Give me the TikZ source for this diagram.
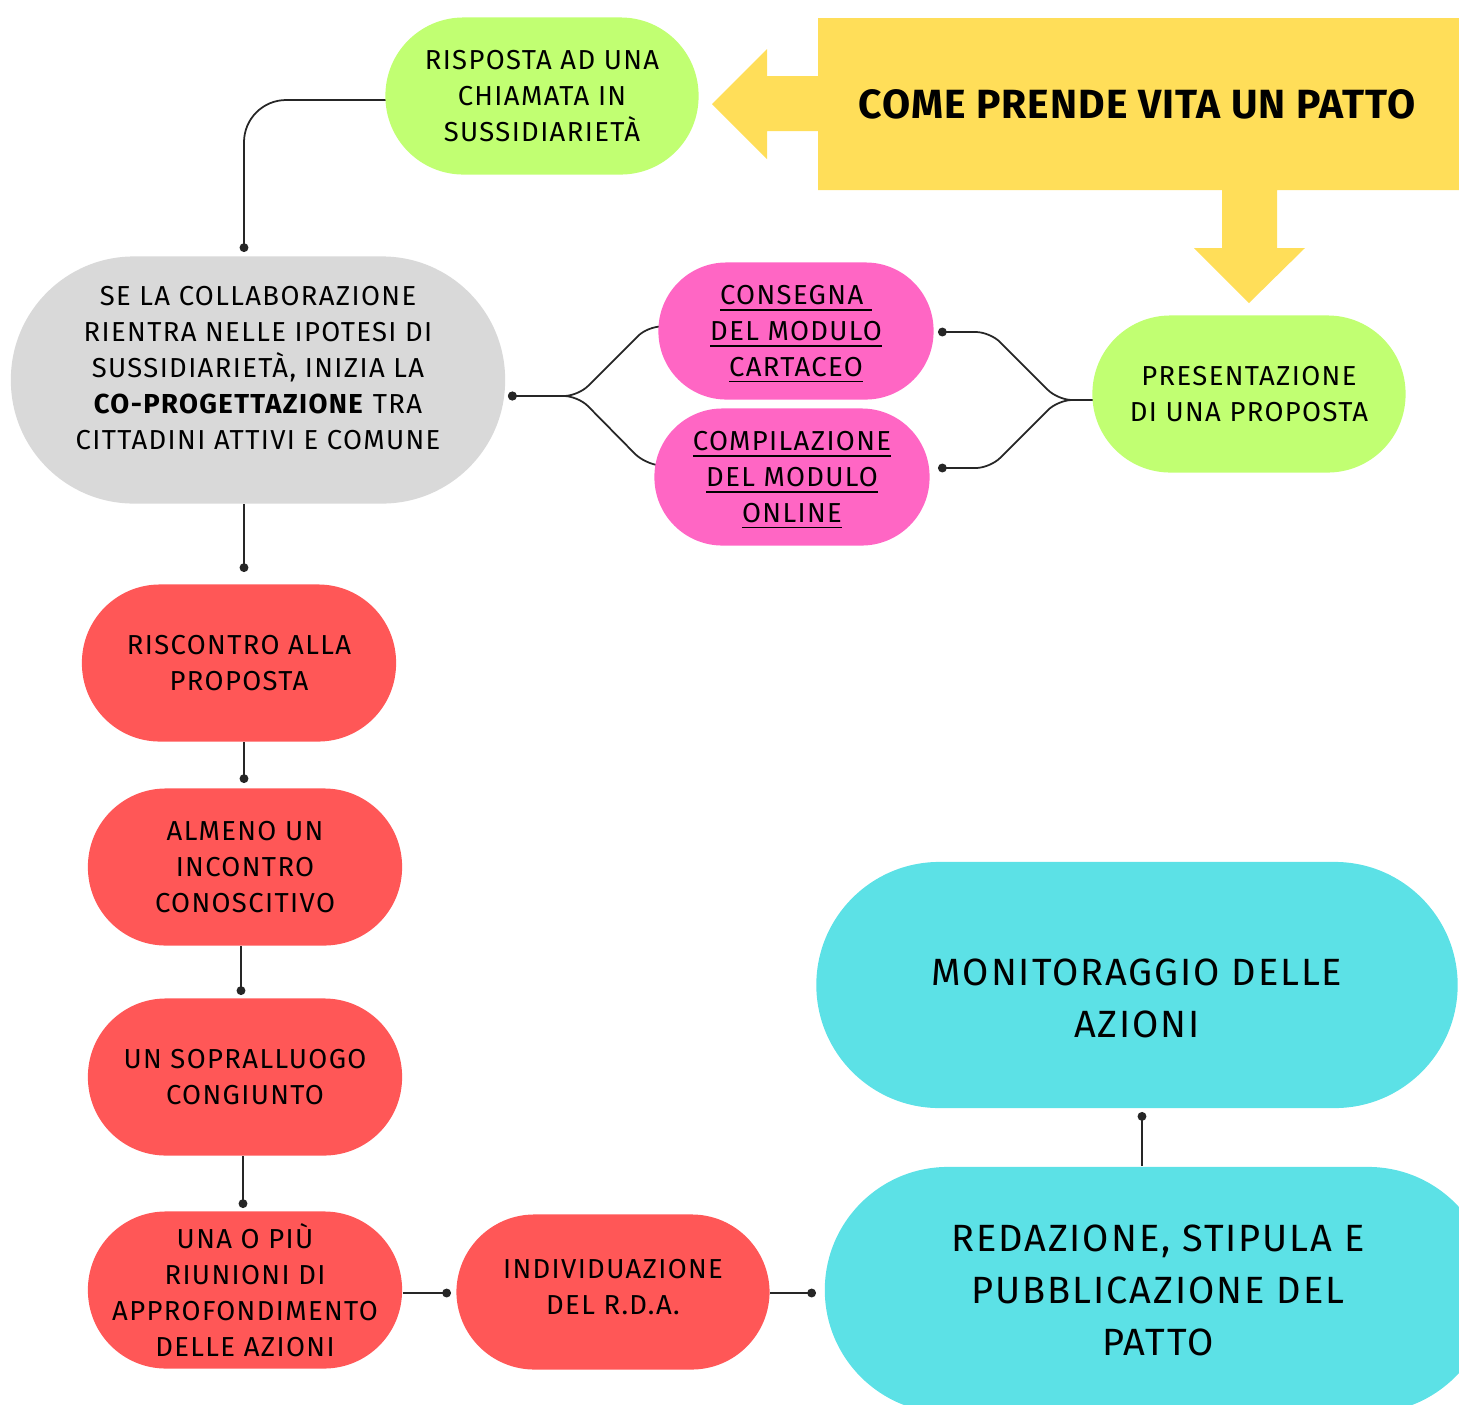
\documentclass[tikz,border=0pt]{standalone}
\usepackage{fontspec}
\setmainfont[LetterSpace=5]{Fira Sans}
\newfontfamily\titlefont[LetterSpace=2.5]{Fira Sans}
\usetikzlibrary{arrows.meta,backgrounds}

\definecolor{lime}{HTML}{C1FF72}
\definecolor{sun}{HTML}{FFDE59}
\definecolor{fog}{HTML}{D9D9D9}
\definecolor{rose}{HTML}{FF66C4}
\definecolor{coral}{HTML}{FF5757}
\definecolor{aqua}{HTML}{5CE1E6}

\newcommand\ulin[1]{\raisebox{0pt}[\height][0pt]{\underline{#1}}}

\tikzset{
  pill/.style={fill=#1, rounded corners=0.78cm, minimum width=3.13cm,
    minimum height=1.57cm, align=center, inner sep=0pt,
    font=\fontsize{7.8}{10.2}\selectfont},
  bigpill/.style={fill=#1, rounded corners=1.23cm, minimum width=6.41cm,
    minimum height=2.46cm, align=center, inner sep=0pt,
    font=\fontsize{10.8}{14.8}\selectfont},
  link/.style={draw=black!85, line width=0.5pt, rounded corners=7pt},
  dotend/.style={link, -{Circle[length=2.5pt]}},
  dotstart/.style={link, {Circle[length=2.5pt]}-},
}

\begin{document}
\begin{tikzpicture}[x=0.01cm,y=-0.01cm]
\useasboundingbox (0,0) rectangle (1459,1405);

% titolo con le due frecce
\fill [sun] (818,18) -- (1459,18) -- (1459,190) -- (1277,190) -- (1277,248)
  -- (1305,248) -- (1249,303) -- (1194,248) -- (1222,248) -- (1222,190)
  -- (818,190) -- (818,131) -- (767,131) -- (767,159) -- (712,104)
  -- (767,49) -- (767,76) -- (818,76) -- cycle;
\node [font=\fontsize{11.6}{14}\titlefont\bfseries] (title) at (1137,104) {COME PRENDE VITA UN PATTO};

% nodi
\node [pill=lime] (ans) at (542,96) {RISPOSTA AD UNA\\CHIAMATA IN\\SUSSIDIARIETÀ};
\node [bigpill=fog, minimum width=4.94cm, minimum height=2.47cm,
  font=\fontsize{7.8}{10.2}\selectfont] (coprog) at (258,380)
  {SE LA COLLABORAZIONE\\RIENTRA NELLE IPOTESI DI\\SUSSIDIARIETÀ, INIZIA LA\\\textbf{CO-PROGETTAZIONE} TRA\\CITTADINI ATTIVI E COMUNE\rule[-6.8pt]{0pt}{0pt}};
\node [pill=rose, minimum width=2.75cm, minimum height=1.37cm, rounded corners=0.68cm] (carta) at (796,331)
  {\ulin{CONSEGNA\ }\\\ulin{DEL MODULO}\\\ulin{CARTACEO}};
\node [pill=rose, minimum width=2.75cm, minimum height=1.37cm, rounded corners=0.68cm] (online) at (792,477)
  {\ulin{COMPILAZIONE}\\\ulin{DEL MODULO}\\\ulin{ONLINE}};
\node [pill=lime] (prop) at (1249,394) {PRESENTAZIONE\\DI UNA PROPOSTA};

\node [pill=coral, minimum width=3.14cm] (risc) at (239,663) {RISCONTRO ALLA\\PROPOSTA};
\node [pill=coral, minimum width=3.14cm] (incontro) at (245,867) {ALMENO UN\\INCONTRO\\CONOSCITIVO};
\node [pill=coral, minimum width=3.14cm] (sopr) at (245,1077) {UN SOPRALLUOGO\\CONGIUNTO};
\node [pill=coral, minimum width=3.14cm] (riun) at (245,1290) {UNA O PIÙ\\RIUNIONI DI\\APPROFONDIMENTO\\DELLE AZIONI};
\node [pill=coral, minimum height=1.55cm] (rda) at (613,1292) {INDIVIDUAZIONE\\DEL R.D.A.\rule[-3pt]{0pt}{0pt}};

\node [bigpill=aqua] (monit) at (1137,985) {\rule{0pt}{15.4pt}MONITORAGGIO DELLE\\AZIONI};
\node [bigpill=aqua, minimum width=6.66cm] (patto) at (1158,1290) {REDAZIONE, STIPULA E\\PUBBLICAZIONE DEL\\PATTO};

% punti di arrivo
\coordinate (k0) at (300,100);
\coordinate (d0) at (244,252);
\coordinate (g0) at (508,396);
\coordinate (c1) at (938,332);
\coordinate (c2) at (938,468);
\coordinate (c3) at (1058,400);
\coordinate (d1) at (244,572);
\coordinate (d2) at (244,783);
\coordinate (d3) at (241,995);
\coordinate (d4) at (243,1208);
\coordinate (d5) at (451,1293);
\coordinate (d6) at (816,1293);
\coordinate (d7) at (1142,1112);

% collegamenti
\begin{scope}[on background layer]
\draw [dotend, rounded corners=12pt] (ans.center |- k0) -| (d0);
\draw [dotstart, rounded corners=4pt] (g0) -- (578,396) -- (648,326) -- (carta.center);
\draw [dotstart, rounded corners=4pt] (g0) -- (578,396) -- (645,464) -- (online.center);
\draw [dotend, rounded corners=4pt] (prop.center |- c3) -- (c3) -- (990,332) -- (c1);
\draw [dotend, rounded corners=4pt] (prop.center |- c3) -- (c3) -- (990,468) -- (c2);
\draw [dotend] (d1 |- coprog.south) -- (d1);
\draw [dotend] (d2 |- risc.south) -- (d2);
\draw [dotend] (d3 |- incontro.south) -- (d3);
\draw [dotend] (d4 |- sopr.south) -- (d4);
\draw [dotend] (riun.east |- d5) -- (d5);
\draw [dotend] (rda.east |- d6) -- (d6);
\draw [dotend] (d7 |- patto.north) -- (d7);
\end{scope}
\end{tikzpicture}
\end{document}
